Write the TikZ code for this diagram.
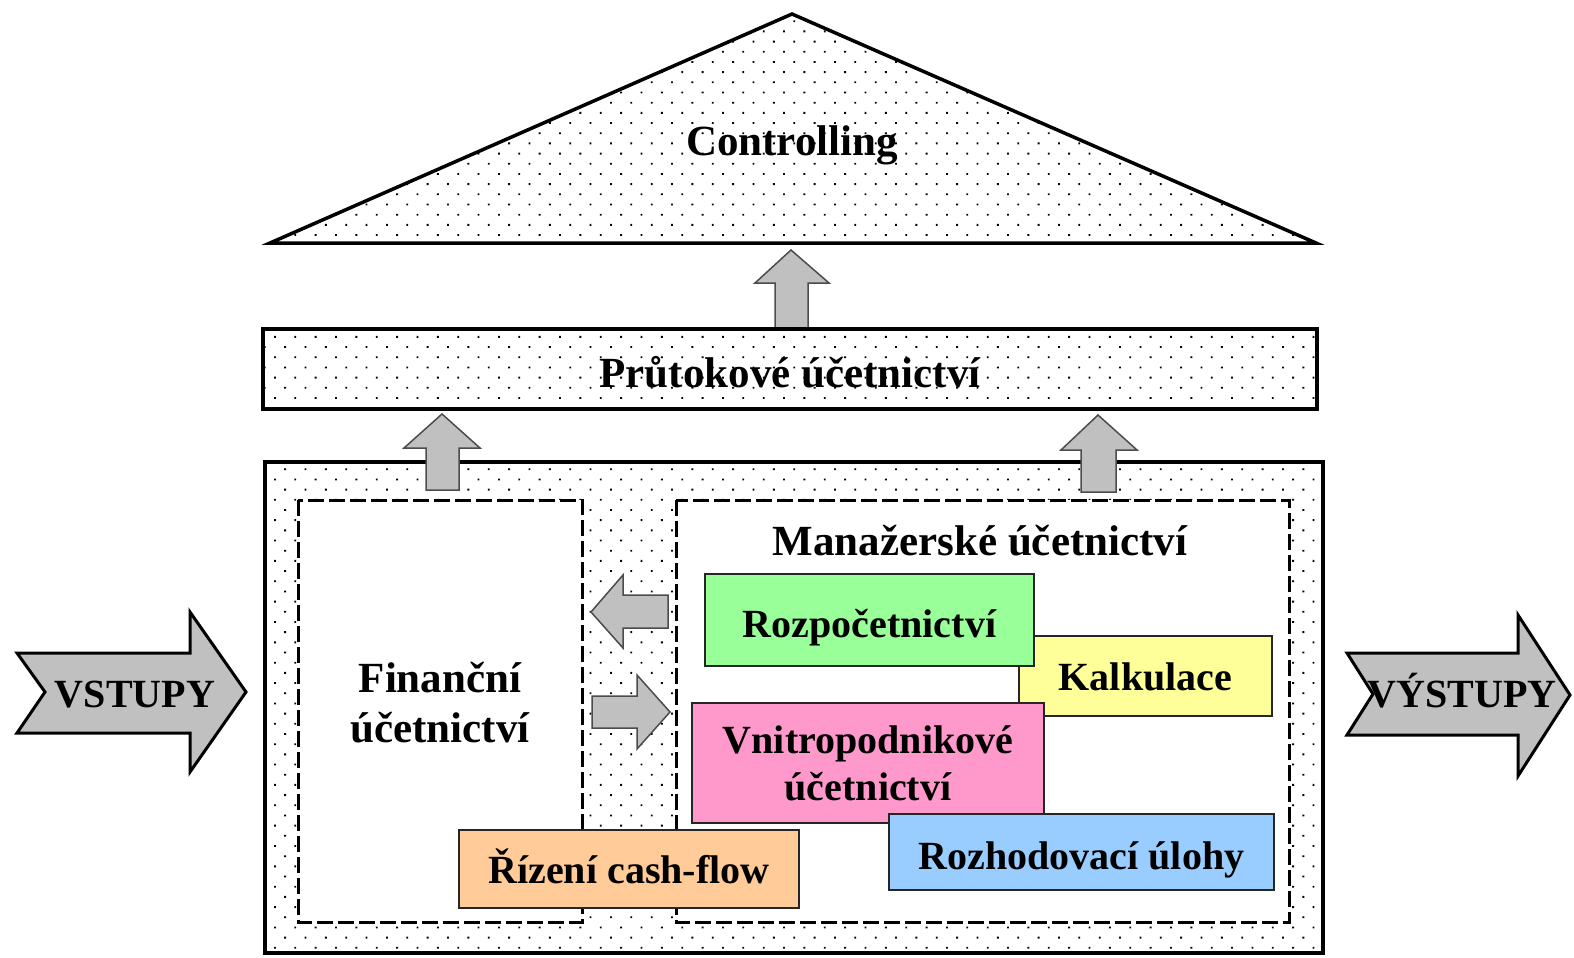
\documentclass[tikz,border=0pt]{standalone}
\usepackage{fontspec}
\setmainfont{Liberation Serif}
\usetikzlibrary{patterns.meta}
\definecolor{cgreen}{HTML}{99FF99}
\definecolor{cyellow}{HTML}{FFFF99}
\definecolor{cpink}{HTML}{FF99CC}
\definecolor{cblue}{HTML}{99CCFF}
\definecolor{corange}{HTML}{FFCC99}
\definecolor{agray}{HTML}{C0C0C0}
\begin{document}
\begin{tikzpicture}[x=1pt,y=-1pt,
  dotfill/.style={pattern={Dots[radius=1.3pt,distance=14.4pt,angle=45]},pattern color=black},
  heavy/.style={draw=black,line width=3.5pt},
  dashbox/.style={draw=black,line width=3pt,dash pattern=on 16pt off 5pt,fill=white},
  colbox/.style={draw=black!85,line width=2pt,inner sep=0pt,align=center,font=\fontsize{40}{47}\selectfont\bfseries},
  one/.style={text height=37pt,text depth=2pt},
  lift/.style={text height=34pt,text depth=5pt},
  head/.style={font=\fontsize{43}{50}\selectfont\bfseries,align=center,inner sep=0pt},
  bigarrow/.style={draw=black,line width=3pt,fill=agray},
  garrow/.style={draw=black!70,line width=1.5pt,fill=agray},
  io/.style={font=\fontsize{40}{47}\selectfont\bfseries,inner sep=0pt,text height=37pt,text depth=2pt}
]
\useasboundingbox (0,0) rectangle (1574,958);

% roof
\draw[heavy,dotfill,line join=miter] (792,14) -- (1316,243) -- (270,243) -- cycle;
\node[head,one] (controlling) at (792,138) {Controlling};

% central up arrow
\draw[garrow] (791,250) -- (829,283) -- (808,283) -- (808,328) -- (775,328) -- (775,283) -- (755,283) -- cycle;

% flow accounting bar
\draw[heavy,dotfill] (263,329) rectangle (1317,409);
\node[head,one] (prutok) at (790,370) {Průtokové účetnictví};

% outer box
\draw[heavy,dotfill] (265,462) rectangle (1323,953);

% dashed boxes
\draw[dashbox] (298,500) rectangle (582,922);
\draw[dashbox] (676,500) rectangle (1289,922);

% up arrows into bar
\draw[garrow] (442,414) -- (480,448) -- (459,448) -- (459,490) -- (426,490) -- (426,448) -- (404,448) -- cycle;
\draw[garrow] (1098,415) -- (1137,450) -- (1116,450) -- (1116,492) -- (1081,492) -- (1081,450) -- (1061,450) -- cycle;

% side arrows between boxes
\draw[garrow] (591,612) -- (623,575) -- (623,595) -- (668,595) -- (668,628) -- (623,628) -- (623,648) -- cycle;
\draw[garrow] (670,712) -- (637,675) -- (637,696) -- (592,696) -- (592,728) -- (637,728) -- (637,749) -- cycle;

% headings in boxes
\node[head] (financni) at (440,703) {Finanční\\účetnictví};
\node[head,one] (manazer) at (980,538) {Manažerské účetnictví};

% coloured boxes
\node[colbox,lift,fill=cyellow,minimum width=253pt,minimum height=80pt] (kalk) at (1145.5,676) {Kalkulace};
\node[colbox,one,fill=cgreen,minimum width=329pt,minimum height=92pt] (rozp) at (869.5,620) {Rozpočetnictví};
\node[colbox,fill=cpink,minimum width=352pt,minimum height=120pt] (vnitro) at (868,763) {Vnitropodnikové\\účetnictví};
\node[colbox,one,fill=cblue,minimum width=385pt,minimum height=76pt] (rozh) at (1081.5,852) {Rozhodovací úlohy};
\node[colbox,lift,fill=corange,minimum width=340pt,minimum height=78pt] (cash) at (629,869) {Řízení cash-flow};

% inputs / outputs
\draw[bigarrow] (17,653) -- (190,653) -- (190,612) -- (246,692) -- (190,772) -- (190,733) -- (17,733) -- (45,692) -- cycle;
\node[io] (vstupy) at (135,690) {VSTUPY};
\draw[bigarrow] (1347,653) -- (1518,653) -- (1518,615) -- (1570,695) -- (1518,776) -- (1518,735) -- (1347,735) -- (1373,694) -- cycle;
\node[io] (vystupy) at (1462,690) {VÝSTUPY};
\end{tikzpicture}
\end{document}
